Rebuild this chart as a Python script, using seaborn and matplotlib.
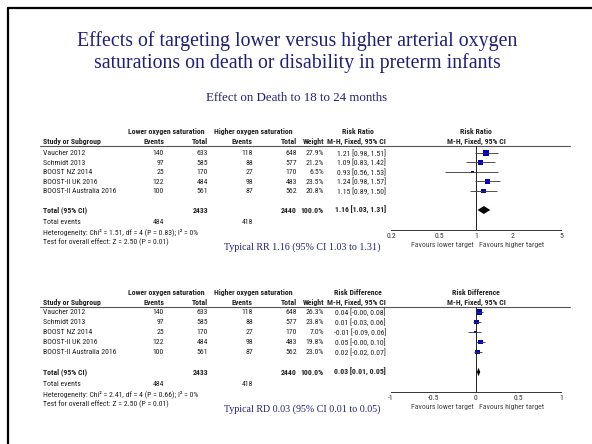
"""Forest plots: lower vs higher oxygen saturation targets in preterm infants."""

import matplotlib
matplotlib.use('Agg')
import matplotlib.pyplot as plt
from matplotlib import font_manager
import seaborn as sns
import numpy as np
import pandas as pd


# Data
studies = ['Vaucher 2012', 'Schmidt 2013', 'BOOST NZ 2014',
           'BOOST-II UK 2016', 'BOOST-II Australia 2016']
low_events = [140, 97, 25, 122, 100]
low_total = [633, 585, 170, 484, 561]
high_events = [118, 88, 27, 98, 87]
high_total = [648, 577, 170, 483, 562]

rr_weight = [27.9, 21.2, 6.5, 23.5, 20.8]
rr_est = [1.21, 1.09, 0.93, 1.24, 1.15]
rr_lo = [0.98, 0.83, 0.56, 0.98, 0.89]
rr_hi = [1.51, 1.42, 1.53, 1.57, 1.50]
rr_total = [1.16, 1.03, 1.31]
rr_het = 'Heterogeneity: Chi² = 1.51, df = 4 (P = 0.83); I² = 0%'
rr_test = 'Test for overall effect: Z = 2.50 (P = 0.01)'
rr_ticks = [0.2, 0.5, 1, 2, 5]
rr_ticklabels = ['0.2', '0.5', '1', '2', '5']

rd_weight = [26.3, 23.8, 7.0, 19.8, 23.0]
rd_est = [0.04, 0.01, -0.01, 0.05, 0.02]
rd_lo = [-0.00, -0.03, -0.09, -0.00, -0.02]
rd_hi = [0.08, 0.06, 0.06, 0.10, 0.07]
rd_total = [0.03, 0.01, 0.05]
rd_het = 'Heterogeneity: Chi² = 2.41, df = 4 (P = 0.66); I² = 0%'
rd_test = 'Test for overall effect: Z = 2.50 (P = 0.01)'
rd_ticks = [-1, -0.5, 0, 0.5, 1]
rd_ticklabels = ['-1', '-0.5', '0', '0.5', '1']

title = ('Effects of targeting lower versus higher arterial oxygen\n'
         'saturations on death or disability in preterm infants')
subtitle = 'Effect on Death to 18 to 24 months'


sns.set_style('white')

# pick a condensed sans for the RevMan-style table text
fonts = font_manager.fontManager.ttflist
names = {f.name for f in fonts}
STRETCH = 'normal'
FS = 4.8
if 'Liberation Sans Narrow' in names:
    NARROW, FS = ['Liberation Sans Narrow', 'DejaVu Sans'], 5.7
elif 'Roboto Condensed' in names:
    NARROW, FS = ['Roboto Condensed', 'DejaVu Sans'], 5.6
elif any(f.name == 'DejaVu Sans' and f.stretch == 'condensed' for f in fonts):
    NARROW, FS, STRETCH = ['DejaVu Sans'], 5.3, 'condensed'
else:
    NARROW = ['Liberation Sans', 'DejaVu Sans']
FSB = FS
SERIF = ['Liberation Serif', 'DejaVu Serif']
plt.rcParams['font.family'] = NARROW
plt.rcParams['font.stretch'] = STRETCH

NAVY = '#202078'
TXT = '#222222'
W, H = 592, 444

fig = plt.figure(figsize=(W / 100, H / 100), dpi=100)
bg = fig.add_axes([0, 0, 1, 1])
bg.set_xlim(0, W)
bg.set_ylim(H, 0)
bg.axis('off')

# slide frame
bg.plot([8, 8], [8, H], color='black', lw=1.6)
bg.plot([8, W], [8, 8], color='black', lw=1.6)

bg.text(297, 52, title, ha='center', va='center', fontsize=14.3,
        family=SERIF, stretch='normal', color=NAVY, linespacing=1.15)
bg.text(297, 98, subtitle, ha='center', va='center', fontsize=9.3,
        family=SERIF, stretch='normal', color=NAVY)


def panel(top, y0, step, measure, weights, est, lo, hi, total, het, test,
          typical, log, ticks, ticklabels):
    # columns (pixel x)
    x_name, x_le, x_lt, x_he, x_ht, x_w, x_ci, x_fp = 43, 164, 208, 253, 297, 324, 386, 476
    t = dict(fontsize=FS, color=TXT, va='center')
    b = dict(t, fontweight='bold', fontsize=FSB)

    bg.text(166, top - 15, 'Lower oxygen saturation', ha='center', **b)
    bg.text(253, top - 15, 'Higher oxygen saturation', ha='center', **b)
    bg.text(358, top - 15, measure, ha='center', **b)
    bg.text(x_fp, top - 15, measure, ha='center', **b)
    hy = top - 4.5
    bg.text(x_name, hy, 'Study or Subgroup', ha='left', **b)
    for x, s in [(x_le, 'Events'), (x_lt, 'Total'), (x_he, 'Events'),
                 (x_ht, 'Total'), (x_w, 'Weight')]:
        bg.text(x, hy, s, ha='right', **b)
    bg.text(x_ci, hy, 'M-H, Fixed, 95% CI', ha='right', **b)
    bg.text(x_fp, hy, 'M-H, Fixed, 95% CI', ha='center', **b)
    bg.plot([40, 570], [top, top], color='#555555', lw=0.8)

    for i, name in enumerate(studies):
        y = y0 + i * step
        bg.text(x_name, y, name, ha='left', **t)
        bg.text(x_le, y, str(low_events[i]), ha='right', **t)
        bg.text(x_lt, y, str(low_total[i]), ha='right', **t)
        bg.text(x_he, y, str(high_events[i]), ha='right', **t)
        bg.text(x_ht, y, str(high_total[i]), ha='right', **t)
        bg.text(x_w, y, f'{weights[i]:.1f}%', ha='right', **t)
        bg.text(x_ci, y, f'{est[i]:.2f} [{lo[i]:.2f}, {hi[i]:.2f}]', ha='right', **t)

    yt = y0 + 6 * step
    bg.text(x_name, yt, 'Total (95% CI)', ha='left', **b)
    bg.text(x_lt, yt, str(sum(low_total)), ha='right', **b)
    bg.text(x_ht, yt, str(sum(high_total)), ha='right', **b)
    bg.text(x_w, yt, '100.0%', ha='right', **b)
    bg.text(x_ci, yt, f'{total[0]:.2f} [{total[1]:.2f}, {total[2]:.2f}]', ha='right', **b)
    bg.text(x_name, yt + 12, 'Total events', ha='left', **t)
    bg.text(x_le, yt + 12, str(sum(low_events)), ha='right', **t)
    bg.text(x_he, yt + 12, str(sum(high_events)), ha='right', **t)
    bg.text(x_name, yt + 22, het, ha='left', **t)
    bg.text(x_name, yt + 32, test, ha='left', **t)

    # forest plot axes
    axis_y = yt + 20
    left, right = 391, 561
    ax = fig.add_axes([left / W, 1 - axis_y / H, (right - left) / W, (axis_y - top) / H])
    ax.set_facecolor('none')
    if log:
        ax.set_xscale('log')
    ax.set_xlim(ticks[0], ticks[-1])
    ax.set_ylim((axis_y - y0) / step, (top - y0) / step)
    ax.axvline(1 if log else 0, color='#222222', lw=0.7)

    df = pd.DataFrame({'est': est, 'lo': lo, 'hi': hi, 'w': weights,
                       'row': np.arange(len(est))})
    ax.hlines(df['row'], df['lo'], df['hi'], color='#333333', lw=0.6)
    sns.scatterplot(data=df, x='est', y='row', size='w', sizes=(4.5, 14),
                    marker='s', color='#0000cc', linewidth=0, legend=False, ax=ax)
    r = 6
    ax.fill([total[1], total[0], total[2], total[0]], [r, r - 0.42, r, r + 0.42],
            color='black', lw=0)

    for s in ['top', 'left', 'right']:
        ax.spines[s].set_visible(False)
    ax.spines['bottom'].set_linewidth(0.7)
    ax.spines['bottom'].set_color('#333333')
    ax.set_xticks(ticks)
    ax.set_xticklabels(ticklabels)
    ax.minorticks_off()
    ax.set_yticks([])
    ax.set_xlabel('')
    ax.set_ylabel('')
    ax.tick_params(axis='x', direction='inout', length=4, width=0.6,
                   labelsize=FS, pad=0.5, colors='#333333')

    bg.text(474, axis_y + 15, 'Favours lower target', ha='right', va='center',
            fontsize=FS, color='#444444')
    bg.text(479, axis_y + 15, 'Favours higher target', ha='left', va='center',
            fontsize=FS, color='#444444')
    bg.text(302, yt + 37, typical, ha='center', va='center', fontsize=7.2,
            family=SERIF, stretch='normal', color=NAVY)


panel(146, 153, 9.5, 'Risk Ratio', rr_weight, rr_est, rr_lo, rr_hi, rr_total,
      rr_het, rr_test, 'Typical RR 1.16 (95% CI 1.03 to 1.31)', True,
      rr_ticks, rr_ticklabels)
panel(307, 312, 10, 'Risk Difference', rd_weight, rd_est, rd_lo, rd_hi, rd_total,
      rd_het, rd_test, 'Typical RD 0.03 (95% CI 0.01 to 0.05)', False,
      rd_ticks, rd_ticklabels)

fig.savefig('out.png', dpi=100)
